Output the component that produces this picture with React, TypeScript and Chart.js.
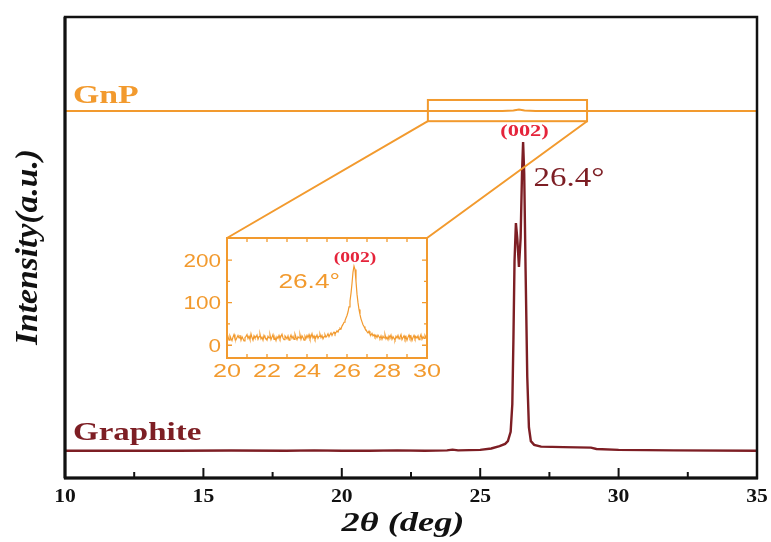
import React, { useEffect, useRef } from "react";
import { Chart, registerables } from "chart.js";
Chart.register(...registerables);

// ---- Data ----
const graphiteX = [10, 12, 14, 16, 18, 19, 20, 21, 22, 23, 23.8, 24.0, 24.2, 25.0, 25.4, 25.7, 25.9, 26.0, 26.1, 26.16, 26.2, 26.24, 26.29, 26.34, 26.4, 26.46, 26.51, 26.55, 26.59, 26.64, 26.7, 26.76, 26.83, 26.95, 27.2, 28, 29, 29.2, 30, 32, 35];
const graphiteY = [5.9, 5.9, 5.9, 5.95, 5.9, 6.0, 5.9, 5.9, 6.0, 5.9, 6.0, 6.15, 6.0, 6.1, 6.4, 6.9, 7.4, 8, 10, 16, 30, 47, 55.3, 52, 45.8, 52, 66, 72.9, 66, 45, 22, 11, 8, 7.2, 6.8, 6.7, 6.6, 6.3, 6.1, 6.0, 5.9];
const gnpX = [10, 25.8, 26.2, 26.4, 26.6, 27, 35];
const gnpY = [79.6, 79.6, 79.7, 79.95, 79.7, 79.6, 79.6];

const insetStart = 20;
const insetStep = 0.05;
const insetY = [
  14, 20, 12, 22, 16, 11, 19, 25, 15, 13,
  18, 23, 17, 24, 12, 20, 15, 10, 18, 21,
  25, 16, 21, 13, 27, 18, 12, 22, 17, 19,
  24, 14, 20, 26, 15, 19, 12, 23, 18, 16,
  12, 21, 17, 24, 13, 19, 25, 14, 18, 11,
  20, 16, 23, 15, 21, 26, 17, 13, 22, 19,
  15, 22, 12, 18, 24, 16, 21, 14, 26, 19,
  13, 20, 17, 25, 14, 22, 18, 12, 21, 16,
  23, 18, 25, 15, 20, 27, 17, 22, 14, 19,
  24, 16, 21, 26, 18, 23, 15, 20, 25, 19,
  22, 27, 20, 25, 29, 23, 28, 31, 26, 30,
  34, 31, 37, 40, 38, 45, 49, 54, 58, 64,
  70, 78, 90, 104, 122, 145, 172, 186, 178, 150,
  120, 100, 84, 72, 62, 55, 48, 44, 39, 36,
  32, 29, 33, 26, 24, 28, 22, 25, 19, 23,
  18, 24, 20, 16, 22, 14, 21, 17, 25, 15,
  19, 13, 22, 18, 24, 14, 20, 16, 12, 21,
  17, 23, 15, 19, 25, 13, 18, 22, 14, 20,
  12, 19, 24, 16, 21, 11, 18, 23, 15, 20,
  17, 22, 13, 19, 25, 14, 20, 16, 23, 18,
  15,
];

const mainTicks = [10, 15, 20, 25, 30, 35];
const mainMinorTicks = [12.5, 17.5, 22.5, 27.5, 32.5];
const insetXTicks = [20, 22, 24, 26, 28, 30];
const insetYTicks = [0, 100, 200];
const insetYMinor = [50, 150];
const zoomBoxX = [23.11, 28.86];
const zoomBoxY = [77.4, 82.0];

const ORANGE = "#F29A2E";
const DARKRED = "#7D1E24";
const RED = "#E5243B";
const SERIF = "'Liberation Serif', 'Times New Roman', serif";
const SANS = "'Liberation Sans', Arial, sans-serif";

const INSET_LEFT = 180;
const INSET_TOP = 228;
const INSET_W = 262;
const INSET_H = 165;

function sText(ctx: CanvasRenderingContext2D, text: string, x: number, y: number, font: string, color: string, align: string, sx = 1) {
  ctx.save();
  ctx.font = font;
  ctx.fillStyle = color;
  ctx.textBaseline = "alphabetic";
  ctx.textAlign = "left";
  const w = ctx.measureText(text).width * sx;
  const x0 = align === "left" ? x : align === "center" ? x - w / 2 : x - w;
  ctx.translate(x0, y);
  ctx.scale(sx, 1);
  ctx.fillText(text, 0, 0);
  ctx.restore();
}

export default function App() {
  const mainRef = useRef<HTMLCanvasElement | null>(null);
  const insetRef = useRef<HTMLCanvasElement | null>(null);

  useEffect(() => {
    const insetData = insetY.map((v, i) => ({ x: insetStart + i * insetStep, y: v }));

    const insetDecor = {
      id: "insetDecor",
      afterDatasetsDraw(chart: any) {
        const { ctx, chartArea: a, scales } = chart;
        const x = scales.x, y = scales.y;
        ctx.save();
        ctx.strokeStyle = ORANGE;
        ctx.lineWidth = 2;
        ctx.strokeRect(a.left, a.top, a.right - a.left, a.bottom - a.top);
        ctx.lineWidth = 1.3;
        for (let v = 21; v < 30; v++) {
          const px = x.getPixelForValue(v);
          ctx.beginPath();
          ctx.moveTo(px, a.bottom); ctx.lineTo(px, a.bottom - 4);
          ctx.moveTo(px, a.top); ctx.lineTo(px, a.top + 4);
          ctx.stroke();
        }
        [...insetYTicks, ...insetYMinor].forEach((v) => {
          const py = y.getPixelForValue(v);
          const len = insetYTicks.includes(v) ? 5 : 3;
          ctx.beginPath();
          ctx.moveTo(a.left, py); ctx.lineTo(a.left + len, py);
          ctx.moveTo(a.right, py); ctx.lineTo(a.right - len, py);
          ctx.stroke();
        });
        insetXTicks.forEach((v) => {
          sText(ctx, String(v), x.getPixelForValue(v), a.bottom + 19, `18px ${SANS}`, ORANGE, "center", 1.4);
        });
        insetYTicks.forEach((v) => {
          sText(ctx, String(v), a.left - 6, y.getPixelForValue(v) + 6.5, `18px ${SANS}`, ORANGE, "right", 1.25);
        });
        sText(ctx, "(002)", x.getPixelForValue(26.4), y.getPixelForValue(196), `bold 14px ${SERIF}`, RED, "center", 1.4);
        sText(ctx, "26.4°", x.getPixelForValue(25.65), y.getPixelForValue(134), `21px ${SANS}`, ORANGE, "right", 1.25);
        ctx.restore();
      },
    };

    const inset = new Chart(insetRef.current as HTMLCanvasElement, {
      type: "line",
      data: {
        datasets: [{
          data: insetData,
          borderColor: ORANGE,
          borderWidth: 1.2,
          pointRadius: 0,
          tension: 0,
        }],
      },
      options: {
        animation: false,
        responsive: false,
        devicePixelRatio: 1,
        layout: { padding: { left: 47, top: 10, right: 15, bottom: 35 } },
        plugins: { legend: { display: false }, tooltip: { enabled: false } },
        scales: {
          x: { type: "linear", min: 20, max: 30, display: false },
          y: { type: "linear", min: -30, max: 252, display: false },
        },
      },
      plugins: [insetDecor],
    });

    const mainDecor = {
      id: "mainDecor",
      afterDatasetsDraw(chart: any) {
        const { ctx, chartArea: a, scales } = chart;
        const x = scales.x, y = scales.y;
        ctx.save();
        // frame
        ctx.strokeStyle = "#111";
        ctx.lineWidth = 2.5;
        ctx.strokeRect(a.left, a.top, a.right - a.left, a.bottom - a.top);
        ctx.lineWidth = 3;
        ctx.beginPath();
        ctx.moveTo(a.left - 1, a.bottom); ctx.lineTo(a.right + 1, a.bottom);
        ctx.moveTo(a.left, a.top); ctx.lineTo(a.left, a.bottom);
        ctx.stroke();
        // ticks
        ctx.lineWidth = 2;
        mainTicks.slice(1, -1).forEach((v) => {
          const px = x.getPixelForValue(v);
          ctx.beginPath(); ctx.moveTo(px, a.bottom); ctx.lineTo(px, a.bottom - 10); ctx.stroke();
        });
        mainMinorTicks.forEach((v) => {
          const px = x.getPixelForValue(v);
          ctx.beginPath(); ctx.moveTo(px, a.bottom); ctx.lineTo(px, a.bottom - 6); ctx.stroke();
        });
        mainTicks.forEach((v) => {
          sText(ctx, String(v), x.getPixelForValue(v), a.bottom + 24, `bold 18px ${SERIF}`, "#111", "center", 1.2);
        });
        // axis titles
        sText(ctx, "2θ (deg)", 403, 531, `italic bold 28px ${SERIF}`, "#111", "center", 1.3);
        ctx.save();
        ctx.translate(37, 247);
        ctx.rotate(-Math.PI / 2);
        sText(ctx, "Intensity(a.u.)", 0, 0, `italic bold 32px ${SERIF}`, "#111", "center", 1.05);
        ctx.restore();
        // zoom box
        const bx1 = x.getPixelForValue(zoomBoxX[0]);
        const bx2 = x.getPixelForValue(zoomBoxX[1]);
        const by1 = y.getPixelForValue(zoomBoxY[1]);
        const by2 = y.getPixelForValue(zoomBoxY[0]);
        ctx.strokeStyle = ORANGE;
        ctx.lineWidth = 2;
        ctx.strokeRect(bx1, by1, bx2 - bx1, by2 - by1);
        const ia = inset.chartArea;
        if (ia) {
          ctx.beginPath();
          ctx.moveTo(bx1, by2); ctx.lineTo(INSET_LEFT + ia.left, INSET_TOP + ia.top);
          ctx.moveTo(bx2, by2); ctx.lineTo(INSET_LEFT + ia.right, INSET_TOP + ia.top);
          ctx.stroke();
        }
        // series labels
        sText(ctx, "GnP", a.left + 8, y.getPixelForValue(79.6) - 8, `bold 26px ${SERIF}`, ORANGE, "left", 1.3);
        sText(ctx, "Graphite", a.left + 8, y.getPixelForValue(5.9) - 11, `bold 26px ${SERIF}`, DARKRED, "left", 1.27);
        // peak labels
        sText(ctx, "(002)", x.getPixelForValue(26.6), y.getPixelForValue(74.2), `bold 16px ${SERIF}`, RED, "center", 1.4);
        sText(ctx, "26.4°", x.getPixelForValue(26.93), y.getPixelForValue(63.3), `27px ${SERIF}`, DARKRED, "left", 1.22);
        ctx.restore();
      },
    };

    const main = new Chart(mainRef.current as HTMLCanvasElement, {
      type: "line",
      data: {
        datasets: [
          {
            label: "GnP",
            data: gnpX.map((v, i) => ({ x: v, y: gnpY[i] })),
            borderColor: ORANGE,
            borderWidth: 2,
            pointRadius: 0,
            tension: 0,
          },
          {
            label: "Graphite",
            data: graphiteX.map((v, i) => ({ x: v, y: graphiteY[i] })),
            borderColor: DARKRED,
            borderWidth: 2.4,
            pointRadius: 0,
            tension: 0,
          },
        ],
      },
      options: {
        animation: false,
        responsive: false,
        devicePixelRatio: 1,
        layout: { padding: { left: 65, top: 17, right: 14, bottom: 64 } },
        plugins: { legend: { display: false }, tooltip: { enabled: false } },
        scales: {
          x: { type: "linear", min: 10, max: 35, display: false },
          y: { type: "linear", min: 0, max: 100, display: false },
        },
      },
      plugins: [mainDecor],
    });

    return () => {
      main.destroy();
      inset.destroy();
    };
  }, []);

  return (
    <div style={{ position: "fixed", left: 0, top: 0, width: 771, height: 542, background: "#fff" }}>
      <canvas ref={mainRef} width={771} height={542} style={{ position: "absolute", left: 0, top: 0 }} />
      <canvas ref={insetRef} width={INSET_W} height={INSET_H} style={{ position: "absolute", left: INSET_LEFT, top: INSET_TOP }} />
    </div>
  );
}
